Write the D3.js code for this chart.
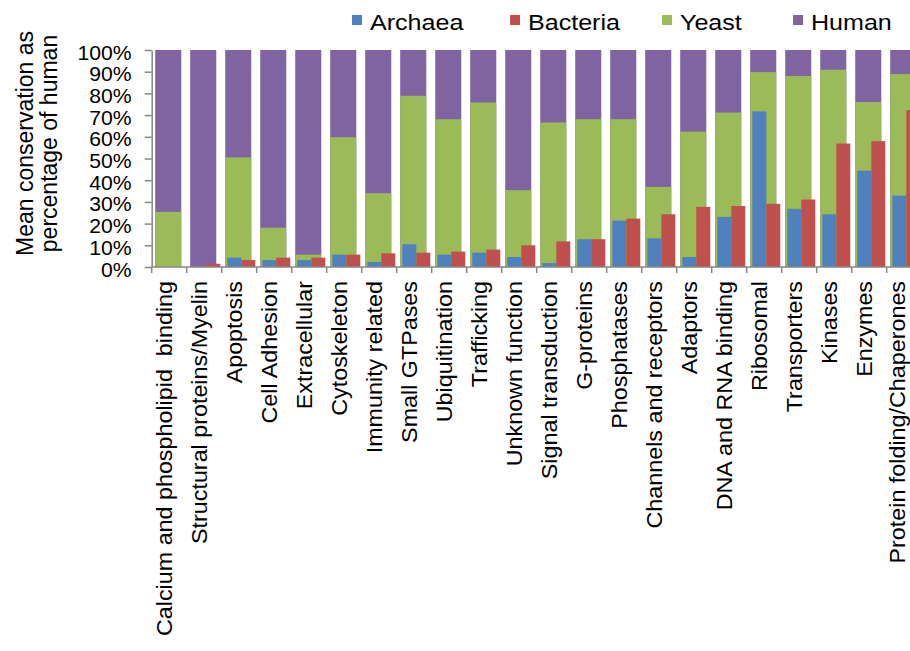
<!DOCTYPE html>
<html>
<head>
<meta charset="utf-8">
<script src="https://cdn.jsdelivr.net/npm/d3@7"></script>
<style>
  body { margin: 0; background: #fff; }
  text { font-family: "Liberation Sans", Arial, sans-serif; fill: #000; }
</style>
</head>
<body>
<div id="chart-area"></div>
<script>
let width = 910,
height = 651;

// data (percent of human)
let categories = ['Calcium and phospholipid  binding', 'Structural proteins/Myelin', 'Apoptosis', 'Cell Adhesion',
  'Extracellular', 'Cytoskeleton', 'Immunity related', 'Small GTPases', 'Ubiquitination', 'Trafficking',
  'Unknown function', 'Signal transduction', 'G-proteins', 'Phosphatases', 'Channels and receptors',
  'Adaptors', 'DNA and RNA binding', 'Ribosomal', 'Transporters', 'Kinases', 'Enzymes',
  'Protein folding/Chaperones']
let archaea = [0, 0, 4.3, 3.2, 3.2, 5.7, 2.3, 10.5, 5.7, 6.6, 4.6, 1.8, 12.8, 21.4, 13.2, 4.6, 23.1, 71.7, 26.8, 24.3, 44.4, 32.9]
let bacteria = [0, 1.5, 3.2, 4.3, 4.3, 5.7, 6.3, 6.6, 7.1, 8.0, 10.0, 11.8, 12.8, 22.3, 24.3, 27.7, 28.1, 29.1, 31.1, 56.9, 58.0, 72.3]
let yeast = [25.4, 0, 50.5, 18.1, 5.7, 59.8, 34.0, 78.9, 68.1, 75.8, 35.4, 66.6, 68.1, 68.1, 36.9, 62.4, 71.2, 89.8, 88.0, 90.9, 76.0, 88.9]
let human = [100, 100, 100, 100, 100, 100, 100, 100, 100, 100, 100, 100, 100, 100, 100, 100, 100, 100, 100, 100, 100, 100]
let yTicks = [0, 10, 20, 30, 40, 50, 60, 70, 80, 90, 100]
let seriesNames = ['Archaea', 'Bacteria', 'Yeast', 'Human']
let colors = {Archaea: '#4F81BD', Bacteria: '#C0504D', Yeast: '#9BBB59', Human: '#8064A2'}

let svg = d3.select('#chart-area').append('svg')
  .attr('width', width)
  .attr('height', height)

let x = d3.scaleBand()
  .domain(categories)
  .range([151.7, 151.7 + 35 * categories.length])
  .paddingInner(0)

let y = d3.scaleLinear()
  .domain([0, 100])
  .range([267, 50])

// wide bars (yeast drawn over human), narrow pair (archaea | bacteria) on top
let wideX = d3.scaleLinear().domain([0, 1]).range([0, x.bandwidth()])
let pair = d3.scaleBand().domain(['Archaea', 'Bacteria'])
  .range([x.bandwidth() * 0.16, x.bandwidth() * 0.96])

let rows = categories.map((c, i) => ({
  cat: c, Archaea: archaea[i], Bacteria: bacteria[i], Yeast: yeast[i], Human: human[i]
}))

let plot = svg.append('g')

;['Human', 'Yeast'].forEach(s => {
  plot.selectAll('.bar-' + s)
    .data(rows)
    .enter().append('rect')
    .attr('class', 'bar-' + s)
    .attr('x', d => x(d.cat) + wideX(0.1))
    .attr('width', wideX(0.745))
    .attr('y', d => y(d[s]))
    .attr('height', d => y(0) - y(d[s]))
    .attr('fill', colors[s])
})

;['Archaea', 'Bacteria'].forEach(s => {
  plot.selectAll('.bar-' + s)
    .data(rows)
    .enter().append('rect')
    .attr('class', 'bar-' + s)
    .attr('x', d => x(d.cat) + pair(s))
    .attr('width', pair.bandwidth())
    .attr('y', d => y(d[s]))
    .attr('height', d => y(0) - y(d[s]))
    .attr('fill', colors[s])
})

// y axis
let yAxis = svg.append('g')
  .attr('transform', 'translate(' + x.range()[0] + ',0)')
  .call(d3.axisLeft(y).tickValues(yTicks).tickSize(7).tickSizeOuter(0).tickFormat(d => d + '%'))
yAxis.select('.domain').attr('stroke', '#868686').attr('stroke-width', 1.5)
yAxis.selectAll('.tick line').attr('stroke', '#868686').attr('stroke-width', 1.5)
yAxis.selectAll('.tick text')
  .attr('x', 0)
  .attr('dy', '0.45em')
  .attr('transform', 'translate(-20,0) scale(1.06,1)')
  .style('font-size', '20px')
  .style('fill', '#000')

// x axis: line with ticks at category boundaries
let xAxis = svg.append('g')
xAxis.append('line')
  .attr('x1', x.range()[0]).attr('x2', x.range()[1])
  .attr('y1', y(0)).attr('y2', y(0))
  .attr('stroke', '#868686').attr('stroke-width', 1.5)
xAxis.selectAll('.xtick')
  .data(d3.range(categories.length + 1))
  .enter().append('line')
  .attr('class', 'xtick')
  .attr('x1', i => x.range()[0] + i * x.step())
  .attr('x2', i => x.range()[0] + i * x.step())
  .attr('y1', y(0)).attr('y2', y(0) + 6)
  .attr('stroke', '#868686').attr('stroke-width', 1.5)

// last label is squeezed in so it stays inside the picture
xAxis.selectAll('.xlabel')
  .data(categories)
  .enter().append('text')
  .attr('class', 'xlabel')
  .attr('transform', d => 'translate(' + Math.min(x(d) + x.bandwidth() / 2 + 3, width - 5) + ',281) rotate(-90) scale(1.06,1)')
  .attr('text-anchor', 'end')
  .style('font-size', '22px')
  .style('white-space', 'pre')
  .text(d => d)

// y title
let yTitle = ['Mean conservation as', 'percentage of human']
svg.selectAll('.ytitle')
  .data(yTitle)
  .enter().append('text')
  .attr('class', 'ytitle')
  .attr('transform', (d, i) => 'translate(' + (33 + i * 24) + ',143.5) rotate(-90)')
  .attr('text-anchor', 'middle')
  .style('font-size', '23px')
  .text(d => d)

// legend
let legendX = [352, 510, 662, 793]
let legend = svg.selectAll('.legend')
  .data(seriesNames)
  .enter().append('g')
  .attr('class', 'legend')
  .attr('transform', (d, i) => 'translate(' + legendX[i] + ',0)')
legend.append('rect')
  .attr('x', 0).attr('y', 15)
  .attr('width', 10).attr('height', 10)
  .attr('fill', d => colors[d])
legend.append('text')
  .attr('transform', 'translate(18,30) scale(1.14,1)')
  .style('font-size', '22px')
  .text(d => d)
</script>
</body>
</html>
